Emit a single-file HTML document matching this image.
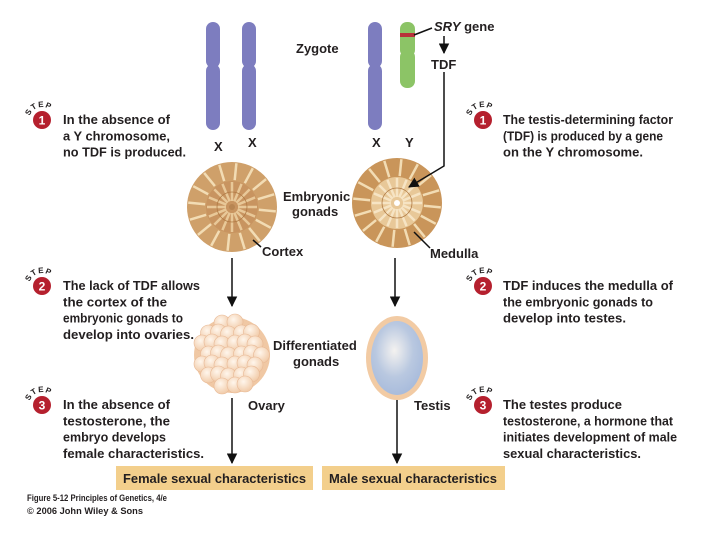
<!DOCTYPE html>
<html><head><meta charset="utf-8"><style>
html,body{margin:0;padding:0;background:#fff}
svg{display:block}
text{font-family:"Liberation Sans",sans-serif;font-weight:bold;fill:#231f20}
</style></head><body>
<svg id="s" width="720" height="540" viewBox="0 0 720 540" xmlns="http://www.w3.org/2000/svg">
<defs>
<radialGradient id="eg" cx="0.45" cy="0.4" r="0.6"><stop offset="0" stop-color="#f4f2f0"/><stop offset="0.6" stop-color="#b9c8e0"/><stop offset="1" stop-color="#a9bcdc"/></radialGradient>
<radialGradient id="bg" cx="0.4" cy="0.35" r="0.7"><stop offset="0" stop-color="#fff6ec"/><stop offset="1" stop-color="#f0c8a4"/></radialGradient>
<marker id="ah" viewBox="0 0 10 10" refX="9" refY="5" markerWidth="7" markerHeight="7" orient="auto"><path d="M0,0L10,5L0,10z" fill="#111"/></marker>
</defs>
<g fill="#7d7dbf">
<rect x="206" y="22" width="14" height="46" rx="7"/><rect x="206" y="64" width="14" height="66" rx="7"/><rect x="209" y="58" width="8" height="16"/>
<rect x="242" y="22" width="14" height="46" rx="7"/><rect x="242" y="64" width="14" height="66" rx="7"/><rect x="245" y="58" width="8" height="16"/>
<rect x="368" y="22" width="14" height="46" rx="7"/><rect x="368" y="64" width="14" height="66" rx="7"/><rect x="371" y="58" width="8" height="16"/>
</g>
<g fill="#8cc466">
<rect x="400" y="22" width="15" height="35" rx="7"/><rect x="400" y="50" width="15" height="38" rx="7"/><rect x="403" y="46" width="9" height="14"/>
</g>
<rect x="400" y="33" width="15" height="4" fill="#b8323a"/>
<line x1="414" y1="35" x2="432" y2="28" stroke="#111" stroke-width="1.5"/>
<text x="434" y="31" font-size="13"><tspan font-style="italic">SRY</tspan> gene</text>
<line x1="444" y1="36" x2="444" y2="53" stroke="#111" stroke-width="1.5" marker-end="url(#ah)"/>
<text x="431" y="69" font-size="13">TDF</text>
<text x="296" y="53" font-size="13">Zygote</text>
<text x="214" y="151" font-size="13">X</text><text x="248" y="147" font-size="13">X</text>
<text x="372" y="147" font-size="13">X</text><text x="405" y="147" font-size="13">Y</text>
<g id="g1"></g><g id="g2"></g>
<polyline points="444,72 444,166 409,187" fill="none" stroke="#111" stroke-width="1.5" marker-end="url(#ah)"/>
<text x="283" y="201" font-size="13">Embryonic</text><text x="292" y="216" font-size="13">gonads</text>
<line x1="253" y1="240" x2="261" y2="247" stroke="#111" stroke-width="1.5"/>
<text x="262" y="256" font-size="13">Cortex</text>
<line x1="414" y1="232" x2="430" y2="248" stroke="#111" stroke-width="1.5"/>
<text x="430" y="258" font-size="13">Medulla</text>
<g stroke="#111" stroke-width="1.5" marker-end="url(#ah)">
<line x1="232" y1="258" x2="232" y2="306"/><line x1="395" y1="258" x2="395" y2="306"/>
<line x1="232" y1="398" x2="232" y2="463"/><line x1="397" y1="398" x2="397" y2="463"/>
</g>
<g id="ov"></g>
<ellipse cx="397" cy="358" rx="31" ry="42" fill="#f2cba4"/>
<ellipse cx="397" cy="358" rx="26" ry="37" fill="url(#eg)"/>
<text x="273" y="350" font-size="13">Differentiated</text><text x="293" y="366" font-size="13">gonads</text>
<text x="248" y="410" font-size="13">Ovary</text><text x="414" y="410" font-size="13">Testis</text>
<rect x="116" y="466" width="197" height="24" fill="#f3cf8c"/>
<rect x="322" y="466" width="183" height="24" fill="#f3cf8c"/>
<text x="123" y="483" font-size="13" textLength="183" lengthAdjust="spacingAndGlyphs">Female sexual characteristics</text>
<text x="329" y="483" font-size="13" textLength="168" lengthAdjust="spacingAndGlyphs">Male sexual characteristics</text>
<text x="27" y="501" font-size="9" textLength="140" lengthAdjust="spacingAndGlyphs">Figure 5-12  Principles of Genetics, 4/e</text>
<text x="27" y="514" font-size="9" textLength="116" lengthAdjust="spacingAndGlyphs">© 2006 John Wiley &amp; Sons</text>
<g id="steps" font-size="13"></g>
</svg>
<script>
const NS="http://www.w3.org/2000/svg";
function el(p,t,a,txt){const e=document.createElementNS(NS,t);for(const k in a)e.setAttribute(k,a[k]);if(txt)e.textContent=txt;p.appendChild(e);return e;}
function gonad(g,cx,cy,male){
 el(g,"circle",{cx,cy,r:45,fill:male?"#c9955a":"#cfa06a"});
 for(let i=0;i<16;i++){const a=i*Math.PI/8+0.1;el(g,"line",{x1:cx+27*Math.cos(a),y1:cy+27*Math.sin(a),x2:cx+44*Math.cos(a),y2:cy+44*Math.sin(a),stroke:"#f2dcb4","stroke-width":2.5});}
 el(g,"circle",{cx,cy,r:26,fill:male?"#e8c898":"#c89460"});
 for(let i=0;i<16;i++){const a=i*Math.PI/8;el(g,"line",{x1:cx+6*Math.cos(a),y1:cy+6*Math.sin(a),x2:cx+25*Math.cos(a),y2:cy+25*Math.sin(a),stroke:male?"#f6e4c4":"#e8c898","stroke-width":2.5});}
 el(g,"circle",{cx,cy,r:15,fill:"none",stroke:"#b07a44","stroke-width":0.8});
 el(g,"circle",{cx,cy,r:6,fill:male?"#e8c898":"#c89460"});
 el(g,"circle",{cx,cy,r:3,fill:male?"#fff":"#b78552"});
}
gonad(document.getElementById("g1"),232,207,false);
gonad(document.getElementById("g2"),397,203,true);
const ov=document.getElementById("ov");
el(ov,"circle",{cx:232,cy:355,r:38,fill:"#f0c8a4"});
const pts=[];let k=0;for(let y=322;y<=390;y+=10.5){k++;for(let x=196;x<=270;x+=11){const dx=x-232+(k%2?5:0),dy=y-355;if(dx*dx+dy*dy<35*35)pts.push([232+dx+((x*7+y)%3-1),y+((x+y*3)%3-1)]);}}
pts.forEach(p=>el(ov,"circle",{cx:p[0],cy:p[1],r:8,fill:"url(#bg)",stroke:"#e8b894","stroke-width":0.6}));
const st=document.getElementById("steps");
function badge(cx,cy,n){el(st,"circle",{cx,cy,r:9,fill:"#b5202e"});el(st,"text",{x:cx,y:cy+4.5,"font-size":12,"text-anchor":"middle",style:"fill:#fff"},n);
 const L="STEP";for(let i=0;i<4;i++){const d=-150+i*28;const a=d*Math.PI/180;const x=cx+13*Math.cos(a),y=cy+13*Math.sin(a);el(st,"text",{x,y,"font-size":8,"text-anchor":"middle",transform:`rotate(${d+90} ${x} ${y})`},L[i]);}}
badge(42,120,"1");badge(42,286,"2");badge(42,405,"3");
badge(483,120,"1");badge(483,286,"2");badge(483,405,"3");
function lines(x,y0,arr){arr.forEach((l,i)=>el(st,"text",{x,y:y0+i*16.3,"font-size":13,textLength:l[1],lengthAdjust:"spacingAndGlyphs"},l[0]));}
lines(63,124,[["In the absence of",107],["a Y chromosome,",107],["no TDF is produced.",123]]);
lines(63,290,[["The lack of TDF allows",137],["the cortex of the",104],["embryonic gonads to",120],["develop into ovaries.",131]]);
lines(63,409,[["In the absence of",107],["testosterone, the",107],["embryo develops",103],["female characteristics.",141]]);
lines(503,124,[["The testis-determining factor",170],[" (TDF) is produced by a gene",160],["on the Y chromosome.",140]]);
lines(503,290,[["TDF induces the medulla of",170],["the embryonic gonads to",150],["develop into testes.",123]]);
lines(503,409,[["The testes produce",119],["testosterone, a hormone that",170],["initiates development of male",174],["sexual characteristics.",138]]);
</script>
</body></html>
